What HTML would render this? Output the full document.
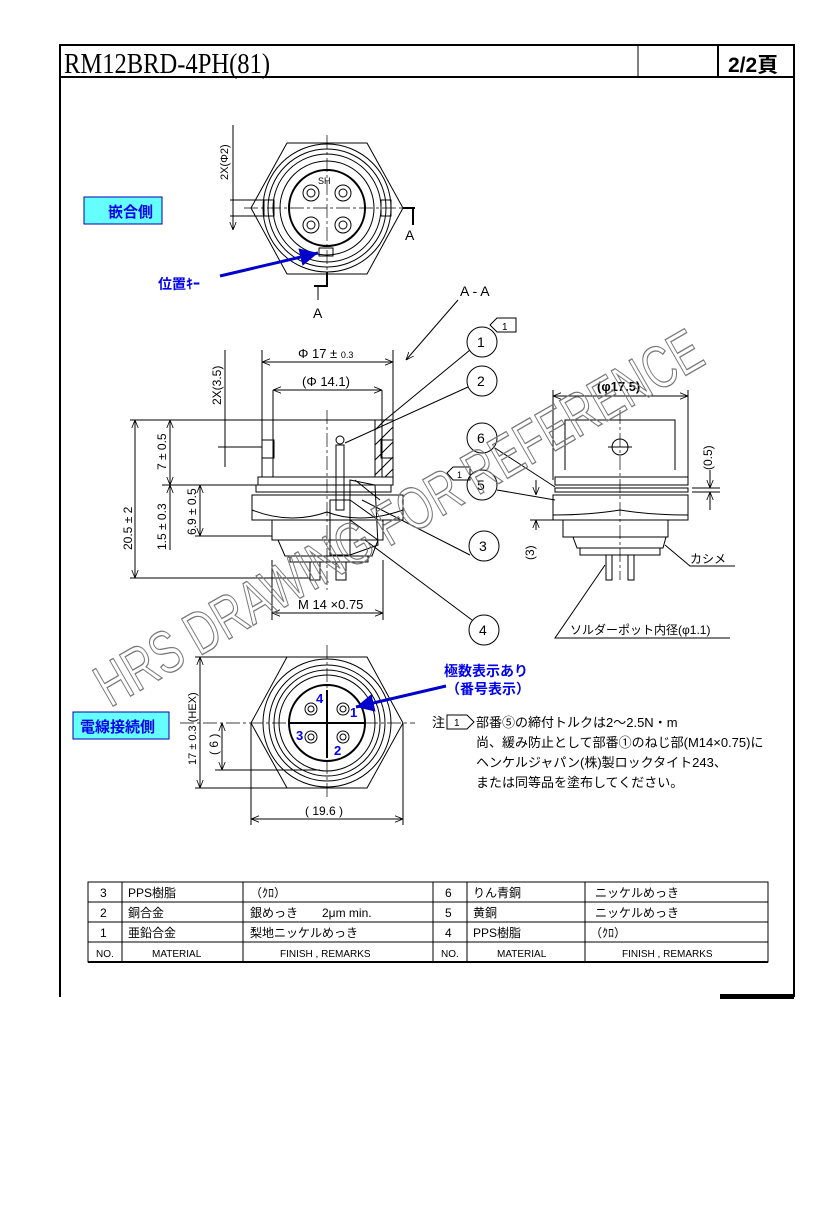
<!DOCTYPE html>
<html><head><meta charset="utf-8"><style>
html,body{margin:0;padding:0;background:#fff;width:827px;height:1205px;overflow:hidden}
svg{display:block}
text{font-family:"Liberation Sans","Noto Sans CJK JP",sans-serif;fill:#000}
.s{stroke:#000;fill:none;stroke-width:1}
.t{stroke:#000;fill:none;stroke-width:2}
.c{stroke:#000;fill:none;stroke-width:0.7;stroke-dasharray:14 3 3 3}
</style></head><body>
<svg width="827" height="1205" viewBox="0 0 827 1205" xmlns="http://www.w3.org/2000/svg">
<defs><marker id="a" viewBox="0 0 10 10" refX="10" refY="5" markerWidth="8" markerHeight="8" orient="auto-start-reverse"><path d="M0,1 L10,5 L0,9" fill="none" stroke="#000" stroke-width="1"/></marker>
<marker id="b" viewBox="0 0 10 10" refX="10" refY="5" markerWidth="6" markerHeight="6" orient="auto"><path d="M0,0 L10,5 L0,10z" fill="#0000cc"/></marker></defs>
<!-- frame -->
<path class="t" d="M60,997 V45 H794 V997"/>
<line class="t" x1="60" y1="77" x2="794" y2="77"/>
<line class="s" x1="638" y1="45" x2="638" y2="77"/>
<line class="t" x1="718" y1="45" x2="718" y2="77"/>
<rect x="720" y="994" width="74" height="5" fill="#000"/>
<text x="64" y="73" font-size="29" style="font-family:'Liberation Serif',serif" textLength="206" lengthAdjust="spacingAndGlyphs">RM12BRD-4PH(81)</text>
<text x="728" y="72" font-size="21" font-weight="bold">2/2頁</text>

<!-- top view -->
<g>
<polygon class="s" points="287,143 367,143 403,208 367,274 287,274 251,208"/>
<circle class="s" cx="327" cy="208" r="64"/><circle class="s" cx="327" cy="208" r="59"/>
<circle class="s" cx="327" cy="208" r="54"/><circle class="s" cx="327" cy="208" r="47"/>
<circle class="t" cx="327" cy="208" r="38"/>
<circle class="s" cx="311" cy="193" r="8"/><circle class="s" cx="311" cy="193" r="4"/>
<circle class="s" cx="343" cy="193" r="8"/><circle class="s" cx="343" cy="193" r="4"/>
<circle class="s" cx="311" cy="225" r="8"/><circle class="s" cx="311" cy="225" r="4"/>
<circle class="s" cx="343" cy="225" r="8"/><circle class="s" cx="343" cy="225" r="4"/>
<rect class="s" x="264" y="200" width="10" height="16"/><rect class="s" x="381" y="200" width="10" height="16"/>
<rect class="s" x="319" y="248" width="14" height="8"/>
<line class="c" x1="244" y1="208" x2="415" y2="208"/><line class="c" x1="327" y1="135" x2="327" y2="285"/>
<text x="318" y="184" font-size="9">SH</text>
<line class="s" x1="230" y1="200" x2="264" y2="200"/><line class="s" x1="230" y1="216" x2="264" y2="216"/>
<line class="s" x1="233" y1="125" x2="233" y2="230" marker-end="url(#a)"/>
<text x="0" y="0" font-size="11" transform="translate(228,180) rotate(-90)">2X(Φ2)</text>
<path class="t" d="M403,208 H415 M413,208 V225"/><text x="405" y="240" font-size="14">A</text>
<path class="t" d="M314,286 H327 V272"/><line class="s" x1="318" y1="286" x2="318" y2="300"/><text x="313" y="318" font-size="14">A</text>
</g>
<rect x="84" y="197" width="78" height="27" fill="#66ffff" stroke="#0000aa"/>
<text x="108" y="217" font-size="15" font-weight="bold" style="fill:#0000ee">嵌合側</text>
<text x="158" y="289" font-size="14" font-weight="bold" style="fill:#0000ee">位置ｷｰ</text>
<line x1="220" y1="276" x2="318" y2="253" stroke="#0000cc" stroke-width="3" marker-end="url(#b)"/>

<!-- A-A -->
<text x="460" y="296" font-size="14">A - A</text>
<line class="s" x1="458" y1="300" x2="406" y2="360" marker-end="url(#a)"/>
<path class="s" d="M497,318 H516 V332 H497 L490,325 Z"/><text x="502" y="330" font-size="10">1</text>

<!-- section view -->
<g>
<rect class="s" x="262" y="420" width="131" height="57"/>
<line class="s" x1="273" y1="390" x2="273" y2="477"/><line class="s" x1="382" y1="390" x2="382" y2="477"/>
<rect class="s" x="262" y="440" width="12" height="18"/><rect class="s" x="381" y="440" width="12" height="18"/>
<path d="M375,420 L393,420 L393,477 L375,477 Z" fill="none" stroke="#000"/>
<path class="s" d="M375,430 L385,420 M375,445 L393,427 M375,460 L393,442 M375,475 L393,457 M385,477 L393,469"/>
<rect class="s" x="258" y="477" width="135" height="8"/>
<rect class="s" x="256" y="485" width="135" height="7"/>
<path class="s" d="M252,495 H403 V520 H252 Z M252,510 Q290,525 327,512 Q360,525 403,510"/>
<rect class="s" x="272" y="520" width="111" height="20"/>
<path class="s" d="M278,540 H378 L372,556 H285 Z"/>
<rect class="s" x="290" y="556" width="78" height="6"/>
<path class="s" d="M310,562 V580 H320 V562 M336,562 V580 H346 V562"/>
<rect class="s" x="336" y="445" width="8" height="65"/><circle class="s" cx="340" cy="440" r="4"/>
<rect class="s" x="330" y="500" width="20" height="55"/>
<path class="s" d="M350,480 L375,485 L378,545 L350,555 Z M355,480 L380,500 M350,500 L378,520 M350,520 L378,540"/>
<line class="c" x1="327" y1="410" x2="327" y2="590"/>
<line class="s" x1="262" y1="350" x2="262" y2="420"/><line class="s" x1="393" y1="350" x2="393" y2="420"/>
<line class="s" x1="262" y1="362" x2="393" y2="362" marker-start="url(#a)" marker-end="url(#a)"/>
<text x="298" y="358" font-size="13">Φ 17 ± <tspan font-size="9">0.3</tspan></text>
<line class="s" x1="273" y1="390" x2="382" y2="390" marker-start="url(#a)" marker-end="url(#a)"/>
<text x="302" y="386" font-size="13">(Φ 14.1)</text>
<line class="s" x1="272" y1="560" x2="272" y2="620"/><line class="s" x1="383" y1="560" x2="383" y2="620"/>
<line class="s" x1="272" y1="613" x2="383" y2="613" marker-start="url(#a)" marker-end="url(#a)"/>
<text x="298" y="609" font-size="13">M 14 ×0.75</text>
<line class="s" x1="130" y1="420" x2="262" y2="420"/><line class="s" x1="130" y1="578" x2="310" y2="578"/>
<line class="s" x1="162" y1="485" x2="258" y2="485"/><line class="s" x1="195" y1="536" x2="272" y2="536"/>
<line class="s" x1="135" y1="420" x2="135" y2="578" marker-start="url(#a)" marker-end="url(#a)"/>
<line class="s" x1="170" y1="420" x2="170" y2="485" marker-start="url(#a)" marker-end="url(#a)"/>
<line class="s" x1="170" y1="485" x2="170" y2="550" marker-start="url(#a)"/>
<line class="s" x1="200" y1="485" x2="200" y2="536" marker-start="url(#a)" marker-end="url(#a)"/>
<line class="s" x1="225" y1="350" x2="225" y2="467"/><line class="s" x1="218" y1="447" x2="262" y2="447"/>
<text font-size="12" transform="translate(132,550) rotate(-90)">20.5 ± 2</text>
<text font-size="12" transform="translate(166,470) rotate(-90)">7 ± 0.5</text>
<text font-size="12" transform="translate(166,550) rotate(-90)">1.5 ± 0.3</text>
<text font-size="12" transform="translate(196,535) rotate(-90)">6.9 ± 0.5</text>
<text font-size="12" transform="translate(221,405) rotate(-90)">2X(3.5)</text>
</g>
<!-- balloons -->
<g font-size="14">
<circle class="s" cx="482" cy="342" r="15"/><text x="477" y="347">1</text>
<circle class="s" cx="482" cy="381" r="15"/><text x="477" y="386">2</text>
<circle class="s" cx="482" cy="438" r="15"/><text x="477" y="443">6</text>
<circle class="s" cx="482" cy="485" r="15"/><text x="477" y="490">5</text>
<circle class="s" cx="484" cy="546" r="15"/><text x="479" y="551">3</text>
<circle class="s" cx="484" cy="630" r="15"/><text x="479" y="635">4</text>
</g>
<line class="s" x1="470" y1="350" x2="385" y2="420"/><line class="s" x1="468" y1="387" x2="345" y2="443"/>
<line class="s" x1="470" y1="555" x2="362" y2="500"/><line class="s" x1="472" y1="620" x2="365" y2="540"/>
<line class="s" x1="495" y1="448" x2="555" y2="487"/><line class="s" x1="497" y1="490" x2="555" y2="500"/>
<path class="s" d="M453,467 H470 V480 H453 L447,473 Z"/><text x="457" y="478" font-size="9">1</text>

<!-- right view -->
<g>
<line class="s" x1="553" y1="396" x2="688" y2="396" marker-start="url(#a)" marker-end="url(#a)"/>
<text x="597" y="391" font-size="13" font-weight="bold">(φ17.5)</text>
<line class="s" x1="553" y1="390" x2="553" y2="480"/><line class="s" x1="688" y1="390" x2="688" y2="480"/>
<path class="s" d="M565,470 V420 H675 V470"/><circle class="s" cx="620" cy="447" r="8"/>
<line class="s" x1="608" y1="447" x2="632" y2="447"/>
<rect class="s" x="555" y="477" width="133" height="8"/><rect class="s" x="555" y="488" width="133" height="4"/>
<path class="s" d="M553,495 H688 V520 H553 Z M553,515 Q590,515 620,510 Q650,515 688,515"/>
<path class="s" d="M563,520 V537 H668 V520 M573,537 L577,548 H663 L666,537 M580,548 V555 H660 V548"/>
<path class="s" d="M606,555 V580 H612 V555 M628,555 V580 H634 V555"/>
<line class="c" x1="620" y1="410" x2="620" y2="580"/>
<line class="s" x1="692" y1="488" x2="720" y2="488"/><line class="s" x1="692" y1="492" x2="720" y2="492"/>
<line class="s" x1="710" y1="470" x2="710" y2="488" marker-end="url(#a)"/><line class="s" x1="710" y1="510" x2="710" y2="492" marker-end="url(#a)"/>
<text font-size="12" transform="translate(712,470) rotate(-90)">(0.5)</text>
<line class="s" x1="530" y1="520" x2="553" y2="520"/>
<line class="s" x1="536" y1="480" x2="536" y2="495" marker-end="url(#a)"/><line class="s" x1="536" y1="530" x2="536" y2="520" marker-end="url(#a)"/>
<text font-size="12" transform="translate(534,560) rotate(-90)">(3)</text>
<path class="s" d="M735,566 H690 L665,545"/><text x="690" y="563" font-size="12">カシメ</text>
<path class="s" d="M730,638 H555 L605,565"/><text x="570" y="634" font-size="12">ソルダーポット内径(φ1.1)</text>
</g>

<!-- bottom view -->
<g>
<polygon class="s" points="287,657 367,657 403,723 367,788 287,788 251,723"/>
<circle class="s" cx="327" cy="723" r="64"/><circle class="s" cx="327" cy="723" r="58"/>
<circle class="s" cx="327" cy="723" r="53"/><circle class="s" cx="327" cy="723" r="48"/>
<circle class="t" cx="327" cy="723" r="38"/>
<line class="t" x1="290" y1="723" x2="364" y2="723"/><line class="t" x1="327" y1="690" x2="327" y2="758"/>
<circle class="s" cx="311" cy="709" r="6"/><circle class="s" cx="311" cy="709" r="3"/>
<circle class="s" cx="343" cy="709" r="6"/><circle class="s" cx="343" cy="709" r="3"/>
<circle class="s" cx="311" cy="737" r="6"/><circle class="s" cx="311" cy="737" r="3"/>
<circle class="s" cx="343" cy="737" r="6"/><circle class="s" cx="343" cy="737" r="3"/>
<line class="c" x1="180" y1="723" x2="415" y2="723"/><line class="c" x1="327" y1="645" x2="327" y2="800"/>
<g font-size="13" font-weight="bold"><text x="316" y="703" style="fill:#0000ee">4</text><text x="350" y="717" style="fill:#0000ee">1</text><text x="296" y="740" style="fill:#0000ee">3</text><text x="334" y="755" style="fill:#0000ee">2</text></g>
<line class="s" x1="195" y1="657" x2="287" y2="657"/><line class="s" x1="195" y1="788" x2="287" y2="788"/>
<line class="s" x1="200" y1="657" x2="200" y2="788" marker-start="url(#a)" marker-end="url(#a)"/>
<line class="s" x1="215" y1="770" x2="320" y2="770"/>
<line class="s" x1="222" y1="723" x2="222" y2="770" marker-start="url(#a)" marker-end="url(#a)"/>
<line class="s" x1="251" y1="723" x2="251" y2="825"/><line class="s" x1="403" y1="723" x2="403" y2="825"/>
<line class="s" x1="251" y1="819" x2="403" y2="819" marker-start="url(#a)" marker-end="url(#a)"/>
<text x="305" y="815" font-size="12">( 19.6 )</text>
<text font-size="11" transform="translate(196,765) rotate(-90)">17 ± 0.3 (HEX)</text>
<text font-size="12" transform="translate(218,755) rotate(-90)">( 6 )</text>
</g>
<rect x="73" y="712" width="96" height="27" fill="#66ffff" stroke="#0000aa"/>
<text x="80" y="732" font-size="15" font-weight="bold" style="fill:#0000ee">電線接続側</text>
<text x="444" y="676" font-size="14" font-weight="bold" style="fill:#0000ee">極数表示あり</text>
<text x="446" y="694" font-size="14" font-weight="bold" style="fill:#0000ee">（番号表示）</text>
<line x1="446" y1="686" x2="356" y2="707" stroke="#0000cc" stroke-width="3" marker-end="url(#b)"/>

<!-- note -->
<g font-size="13">
<text x="432" y="727">注</text>
<path class="s" d="M447,715 H467 L474,722 L467,729 H447 Z"/><text x="454" y="726" font-size="10">1</text>
<text x="476" y="727">部番⑤の締付トルクは2～2.5N・m</text>
<text x="476" y="747">尚、緩み防止として部番①のねじ部(M14×0.75)に</text>
<text x="476" y="767">ヘンケルジャパン(株)製ロックタイト243、</text>
<text x="476" y="787">または同等品を塗布してください。</text>
</g>

<!-- table -->
<g>
<rect x="88" y="882" width="680" height="80" class="s"/>
<line class="t" x1="88" y1="962" x2="768" y2="962"/>
<line class="s" x1="88" y1="902" x2="768" y2="902"/><line class="s" x1="88" y1="922" x2="768" y2="922"/><line class="s" x1="88" y1="942" x2="768" y2="942"/>
<line class="s" x1="122" y1="882" x2="122" y2="962"/><line class="s" x1="243" y1="882" x2="243" y2="962"/>
<line class="s" x1="433" y1="882" x2="433" y2="962"/><line class="s" x1="467" y1="882" x2="467" y2="962"/>
<line class="s" x1="585" y1="882" x2="585" y2="962"/>
<g font-size="12">
<text x="100" y="897">3</text><text x="128" y="897">PPS樹脂</text><text x="250" y="897">（ｸﾛ）</text>
<text x="445" y="897">6</text><text x="473" y="897">りん青銅</text><text x="595" y="897">ニッケルめっき</text>
<text x="100" y="917">2</text><text x="128" y="917">銅合金</text><text x="250" y="917">銀めっき　　2μm min.</text>
<text x="445" y="917">5</text><text x="473" y="917">黄銅</text><text x="595" y="917">ニッケルめっき</text>
<text x="100" y="937">1</text><text x="128" y="937">亜鉛合金</text><text x="250" y="937">梨地ニッケルめっき</text>
<text x="445" y="937">4</text><text x="473" y="937">PPS樹脂</text><text x="590" y="937">（ｸﾛ）</text>
</g>
<g font-size="10">
<text x="96" y="957">NO.</text><text x="152" y="957">MATERIAL</text><text x="280" y="957">FINISH , REMARKS</text>
<text x="441" y="957">NO.</text><text x="497" y="957">MATERIAL</text><text x="622" y="957">FINISH , REMARKS</text>
</g>
</g>

<!-- watermark -->
<text x="0" y="0" font-size="60" style="fill:none;stroke:#777;stroke-width:1.3" transform="translate(110,708) rotate(-30)" textLength="690" lengthAdjust="spacingAndGlyphs">HRS DRAWING FOR REFERENCE</text>
</svg>
</body></html>
